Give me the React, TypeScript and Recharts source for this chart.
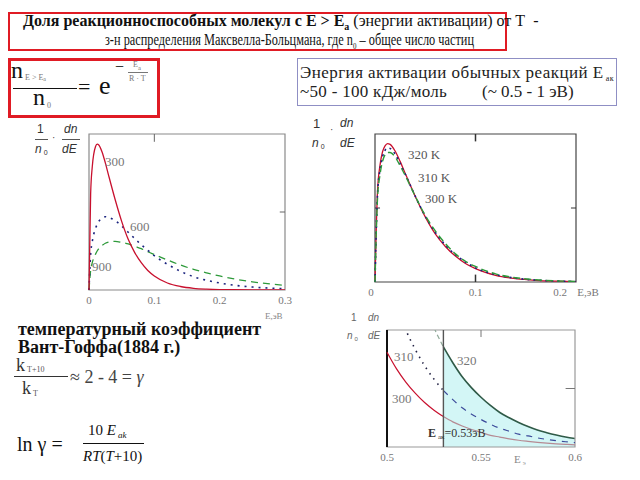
import React from 'react';
import { LineChart, ComposedChart, Line, Area, XAxis, YAxis, ReferenceArea, ReferenceLine } from 'recharts';

// chart 1: Maxwell-Boltzmann at 300 / 600 / 900 K, E in eV
const energy1 = [0, 0.0025, 0.005, 0.01, 0.0125, 0.015, 0.02, 0.025, 0.03, 0.04, 0.05, 0.06, 0.07, 0.08, 0.09, 0.1, 0.12, 0.14, 0.16, 0.18, 0.2, 0.22, 0.25, 0.28, 0.3];
const dist300 = [0, 12.3, 15.8, 18.4, 18.7, 18.6, 17.7, 16.3, 14.7, 11.6, 8.8, 6.5, 4.8, 3.5, 2.5, 1.8, 0.9, 0.45, 0.22, 0.11, 0.05, 0.03, 0.01, 0, 0];
const dist600 = [0, 4.6, 6.2, 7.9, 8.4, 8.8, 9.2, 9.4, 9.3, 8.9, 8.2, 7.4, 6.6, 5.8, 5.1, 4.4, 3.3, 2.4, 1.7, 1.25, 0.9, 0.64, 0.38, 0.23, 0.16];
const dist900 = [0, 2.5, 3.5, 4.6, 5.0, 5.3, 5.7, 6.0, 6.15, 6.24, 6.1, 5.9, 5.6, 5.3, 4.9, 4.55, 3.85, 3.2, 2.65, 2.2, 1.8, 1.45, 1.05, 0.75, 0.6];
const ticks1 = [0, 0.1, 0.2, 0.3];

// chart 2: 300 / 310 / 320 K
const energy2 = [0, 0.0025, 0.005, 0.0075, 0.01, 0.0125, 0.015, 0.02, 0.025, 0.03, 0.04, 0.05, 0.06, 0.07, 0.08, 0.09, 0.1, 0.12, 0.14, 0.16, 0.18, 0.2];
const near300 = [0, 12.3, 15.8, 17.6, 18.4, 18.7, 18.6, 17.7, 16.3, 14.7, 11.6, 8.8, 6.5, 4.8, 3.5, 2.5, 1.8, 0.9, 0.45, 0.22, 0.11, 0.05];
const near310 = [0, 11.8, 15.2, 16.9, 17.8, 18.1, 18.05, 17.3, 16.0, 14.6, 11.6, 8.9, 6.7, 5.0, 3.7, 2.7, 1.9, 1.0, 0.51, 0.26, 0.13, 0.06];
const near320 = [0, 11.3, 14.5, 16.3, 17.2, 17.5, 17.5, 16.9, 15.7, 14.4, 11.6, 9.0, 6.9, 5.2, 3.8, 2.8, 2.1, 1.1, 0.58, 0.3, 0.15, 0.08];
const ticks2 = [0, 0.1, 0.2];

// chart 3: high-energy tail, 0.5 - 0.6 eV
const energy3 = [0.5, 0.505, 0.51, 0.515, 0.52, 0.525, 0.53, 0.535, 0.54, 0.545, 0.55, 0.555, 0.56, 0.565, 0.57, 0.575, 0.58, 0.585, 0.59, 0.595, 0.6];
const tail300 = [1.62, 1.34, 1.11, 0.92, 0.76, 0.63, 0.52, 0.43, 0.36, 0.3, 0.25, 0.2, 0.17, 0.14, 0.115, 0.096, 0.079, 0.065, 0.054, 0.045, 0.037];
const tail310 = [2.88, 2.4, 2.0, 1.67, 1.39, 1.16, 0.965, 0.81, 0.67, 0.56, 0.47, 0.39, 0.32, 0.27, 0.22, 0.19, 0.156, 0.13, 0.108, 0.09, 0.075];
const tail320 = [4.94, 4.14, 3.47, 2.91, 2.44, 2.04, 1.71, 1.44, 1.2, 1.01, 0.85, 0.71, 0.59, 0.5, 0.42, 0.35, 0.29, 0.245, 0.205, 0.17, 0.144];
const ticks3 = [0.5, 0.55, 0.6];
const activationE = 0.53;

const rows1 = energy1.map((e, i) => ({ e, t300: dist300[i], t600: dist600[i], t900: dist900[i] }));
const rows2 = energy2.map((e, i) => ({ e, t300: near300[i], t310: near310[i], t320: near320[i] }));
const rows3 = energy3.map((e, i) => {
  const l = e <= activationE + 1e-9;
  const r = e >= activationE - 1e-9;
  return {
    e,
    r300L: l ? tail300[i] : null,
    r300R: r ? tail300[i] : null,
    r310L: l ? tail310[i] : null,
    r310R: r ? tail310[i] : null,
    r320L: l ? tail320[i] : null,
    r320R: r ? tail320[i] : null,
  };
});

const serif = '"Liberation Serif", "Times New Roman", serif';
const sans = '"Liberation Sans", Arial, sans-serif';

const T = ({ x, y, size = 14, color = '#111', bold = false, italic = false, family = serif, sx = 1, ls = 0, lh = 1, children }: any) => (
  <div
    style={{
      position: 'absolute', left: x, top: y, fontSize: size, color, lineHeight: lh,
      fontWeight: bold ? 700 : 400, fontStyle: italic ? 'italic' : 'normal',
      fontFamily: family, whiteSpace: 'nowrap', letterSpacing: ls,
      transform: sx !== 1 ? `scaleX(${sx})` : undefined, transformOrigin: 'left top',
    }}
  >
    {children}
  </div>
);

const HLine = ({ x, y, w, color = '#111', h = 1 }: any) => (
  <div style={{ position: 'absolute', left: x, top: y, width: w, height: h, background: color }} />
);

const Sub = ({ size = 8, color = '#777', drop = -2, children }: any) => (
  <span style={{ fontSize: size, color, verticalAlign: drop, marginLeft: 2, fontStyle: 'normal', lineHeight: 0 }}>{children}</span>
);

const AxisTick = (props: any) => {
  const { x, y, payload, tail } = props;
  const v = payload.value;
  const last = tail && v === ticks2[ticks2.length - 1];
  const shift = last ? -16 : tail && v === 0 ? -4 : 0;
  return (
    <g>
      <text x={x + shift} y={y} dy={9} textAnchor="middle" fill="#777" fontSize={11} fontFamily={serif}>
        {String(v)}
      </text>
      {last && (
        <text x={x + 12} y={y} dy={9} textAnchor="middle" fill="#777" fontSize={11} fontFamily={serif}>
          E,эВ
        </text>
      )}
    </g>
  );
};

const xProps = (domain: number[], ticks: number[]) => ({
  type: 'number' as const,
  dataKey: 'e',
  domain,
  ticks,
  interval: 0 as const,
  axisLine: false,
  tickLine: false,
  tickSize: 3,
  tickMargin: 2,
  height: 20,
});

const lineBase = { type: 'monotone' as const, dot: false, isAnimationActive: false, activeDot: false };

export default function App() {
  return (
    <div style={{ position: 'fixed', left: 0, top: 0, width: 640, height: 480, background: '#fff', overflow: 'hidden', fontFamily: serif }}>
      {/* title */}
      <div style={{ position: 'absolute', left: 8, top: 12, width: 495, height: 35, border: '2px solid #e01b24' }} />
      <T x={23} y={14} size={16} lh={0.9}>
        <b>Доля реакционноспособных молекул с E &gt; E<sub style={{ fontSize: 10, lineHeight: 0 }}>a</sub></b> (энергии активации) от T&nbsp; -
      </T>
      <T x={105} y={33} size={16} sx={0.77} lh={0.9}>
        з-н распределения Максвелла-Больцмана, где n<sub style={{ fontSize: 9, lineHeight: 0 }}>0</sub> – общее число частиц
      </T>

      {/* formula box */}
      <div style={{ position: 'absolute', left: 8, top: 58, width: 146, height: 54, border: '3px solid #e01b24' }} />
      <T x={11} y={61} size={24} lh={0.8}>
        n<Sub>E &gt; E<span style={{ fontSize: 6, verticalAlign: -1 }}>a</span></Sub>
      </T>
      <HLine x={13} y={88} w={64} />
      <T x={33} y={88} size={24} lh={0.8}>n<Sub drop={-3}>0</Sub></T>
      <T x={78} y={76} size={22}>=</T>
      <T x={99} y={73} size={26}>e</T>
      <T x={115} y={59} size={16}>−</T>
      <T x={133} y={61} size={8} color="#777">E<sub>a</sub></T>
      <HLine x={128} y={72} w={20} color="#777" />
      <T x={129} y={75} size={8} color="#777">R · T</T>

      {/* energy box */}
      <div style={{ position: 'absolute', left: 297, top: 58, width: 318, height: 46, border: '1.5px solid #8f8fc4' }} />
      <T x={300} y={64} size={17} color="#222" ls={0.45}>
        Энергия активации обычных реакций E<Sub color="#222" drop={-3}>ак</Sub>
      </T>
      <T x={300} y={83} size={17} color="#222" ls={0.3}>~50 - 100 кДж/моль</T>
      <T x={482} y={83} size={17} color="#222">(~ 0.5 - 1 эВ)</T>

      {/* chart 1 */}
      <T x={37} y={123} size={12} color="#333" family={sans}>1</T>
      <HLine x={35} y={139} w={13} color="#555" />
      <T x={35} y={143} size={12} color="#333" italic family={sans}>n<Sub size={7} color="#333" drop={-2}>0</Sub></T>
      <T x={52} y={133} size={10} color="#333">·</T>
      <T x={64} y={123} size={12} color="#333" italic family={sans}>dn</T>
      <HLine x={62} y={139} w={18} color="#555" />
      <T x={62} y={143} size={12} color="#333" italic family={sans}>dE</T>
      <div style={{ position: 'absolute', left: 79, top: 124 }}>
        <LineChart width={216} height={190} data={rows1} margin={{ top: 10, right: 10, bottom: 4, left: 10 }}>
          <XAxis {...xProps([0, 0.3], ticks1)} tick={<AxisTick />} />
          <YAxis hide type="number" domain={[0, 20]} allowDataOverflow />
          <ReferenceArea x1={0} x2={0.3} y1={0} y2={20} fill="none" stroke="#8a8a8a" strokeWidth={1.2} />
          <ReferenceLine segment={[{ x: 0.1, y: 20 }, { x: 0.1, y: 19 }]} stroke="#666" />
          <ReferenceLine segment={[{ x: 0.3, y: 10 }, { x: 0.292, y: 10 }]} stroke="#666" />
          <Line {...lineBase} dataKey="t900" stroke="#2e9a3a" strokeWidth={1.3} strokeDasharray="7 5" />
          <Line {...lineBase} dataKey="t600" stroke="#1a237e" strokeWidth={1.6} strokeDasharray="2 5" />
          <Line {...lineBase} dataKey="t300" stroke="#c8102e" strokeWidth={1.3} />
        </LineChart>
      </div>
      <T x={105} y={155} size={13} color="#777">300</T>
      <T x={130} y={220} size={13} color="#777">600</T>
      <T x={92} y={260} size={13} color="#777">900</T>
      <T x={265} y={312} size={9} color="#888">E,эВ</T>

      {/* chart 2 */}
      <T x={313} y={117} size={13} color="#333" family={sans}>1</T>
      <T x={330} y={125} size={10} color="#333">·</T>
      <T x={340} y={117} size={12} color="#333" italic family={sans}>dn</T>
      <T x={312} y={137} size={12} color="#333" italic family={sans}>n<Sub size={7} color="#333" drop={-2}>0</Sub></T>
      <T x={340} y={137} size={12} color="#333" italic family={sans}>dE</T>
      <div style={{ position: 'absolute', left: 365, top: 124 }}>
        <LineChart width={240} height={182} data={rows2} margin={{ top: 10, right: 29, bottom: 4, left: 10 }}>
          <XAxis {...xProps([0, 0.2], ticks2)} tick={<AxisTick tail />} />
          <YAxis hide type="number" domain={[0, 20]} allowDataOverflow />
          <ReferenceArea x1={0} x2={0.2} y1={0} y2={20} fill="none" stroke="#444" strokeWidth={1.2} />
          <ReferenceLine segment={[{ x: 0.1, y: 20 }, { x: 0.1, y: 19 }]} stroke="#333" strokeWidth={1.5} />
          <ReferenceLine segment={[{ x: 0.1, y: 0 }, { x: 0.1, y: 1 }]} stroke="#333" strokeWidth={1.5} />
          <ReferenceLine segment={[{ x: 0, y: 10 }, { x: 0.005, y: 10 }]} stroke="#333" />
          <ReferenceLine segment={[{ x: 0.2, y: 10 }, { x: 0.195, y: 10 }]} stroke="#333" />
          <Line {...lineBase} dataKey="t300" stroke="#c8102e" strokeWidth={1.3} />
          <Line {...lineBase} dataKey="t310" stroke="#1a237e" strokeWidth={1.6} strokeDasharray="2 4" />
          <Line {...lineBase} dataKey="t320" stroke="#2e9a3a" strokeWidth={1.4} strokeDasharray="7 4" />
        </LineChart>
      </div>
      <T x={408} y={148} size={13} color="#555">320 K</T>
      <T x={418} y={171} size={13} color="#555">310 K</T>
      <T x={425} y={192} size={13} color="#555">300 K</T>

      {/* left text block */}
      <T x={18} y={320} size={18} bold>температурный коэффициент</T>
      <T x={18} y={338} size={18} bold>Вант-Гоффа(1884 г.)</T>
      <T x={16} y={356} size={18} color="#333">k<Sub size={8} color="#555" drop={-1}>T+10</Sub></T>
      <HLine x={14} y={376} w={54} color="#333" />
      <T x={22} y={379} size={18} color="#333">k<Sub size={8} color="#555" drop={-2}>T</Sub></T>
      <T x={70} y={368} size={18} color="#444">≈ 2 - 4 = <i>γ</i></T>
      <T x={17} y={434} size={20} color="#111">ln γ =</T>
      <T x={88} y={423} size={15} color="#111">10 <i>E<Sub size={9} color="#111" drop={-3}><i>ak</i></Sub></i></T>
      <HLine x={83} y={443} w={61} color="#111" />
      <T x={83} y={449} size={15} color="#111"><i>RT</i>(<i>T</i>+10)</T>

      {/* chart 3 */}
      <T x={351} y={313} size={10} color="#666" family={sans}>1</T>
      <T x={368} y={313} size={10} color="#666" italic family={sans}>dn</T>
      <T x={347} y={331} size={10} color="#666" italic family={sans}>n<Sub size={6} color="#666" drop={-2}>0</Sub></T>
      <T x={368} y={331} size={10} color="#666" italic family={sans}>dE</T>
      <div style={{ position: 'absolute', left: 377, top: 320 }}>
        <ComposedChart width={215} height={151} data={rows3} margin={{ top: 10, right: 17, bottom: 4, left: 10 }}>
          <XAxis {...xProps([0.5, 0.6], ticks3)} tick={<AxisTick />} />
          <YAxis hide type="number" domain={[0, 2]} allowDataOverflow />
          <Area {...lineBase} dataKey="r320R" stroke="#2f5a47" strokeWidth={1.6} fill="#d3f6f6" fillOpacity={1} />
          <ReferenceArea x1={0.5} x2={0.6} y1={0} y2={2} fill="none" stroke="#9a9a9a" strokeWidth={1.2} />
          <ReferenceLine segment={[{ x: 0.55, y: 2 }, { x: 0.55, y: 1.88 }]} stroke="#777" />
          <ReferenceLine segment={[{ x: 0.6, y: 1 }, { x: 0.595, y: 1 }]} stroke="#777" />
          <ReferenceLine x={0.5} stroke="#111" strokeWidth={2} />
          <Line {...lineBase} dataKey="r300L" stroke="#c8102e" strokeWidth={1.2} />
          <Line {...lineBase} dataKey="r300R" stroke="#b58a93" strokeWidth={1.2} />
          <Line {...lineBase} dataKey="r310L" stroke="#222244" strokeWidth={1.6} strokeDasharray="1.5 5" />
          <Line {...lineBase} dataKey="r310R" stroke="#3b4a9a" strokeWidth={1.2} strokeDasharray="6 6" />
          <Line {...lineBase} dataKey="r320L" stroke="#8fa898" strokeWidth={1.2} strokeDasharray="5 3" />
          <ReferenceLine x={activationE} stroke="#555" strokeWidth={1.4} />
        </ComposedChart>
      </div>
      <T x={394} y={350} size={13} color="#777">310</T>
      <T x={392} y={392} size={13} color="#777">300</T>
      <T x={457} y={354} size={13} color="#777">320</T>
      <T x={428} y={427} size={12} color="#333">
        <b>E</b><Sub size={7} color="#333" drop={-2}>ак</Sub>=0.53эВ
      </T>
      <T x={514} y={454} size={11} color="#888">E<Sub size={7} color="#888" drop={-2}>э</Sub></T>
    </div>
  );
}
